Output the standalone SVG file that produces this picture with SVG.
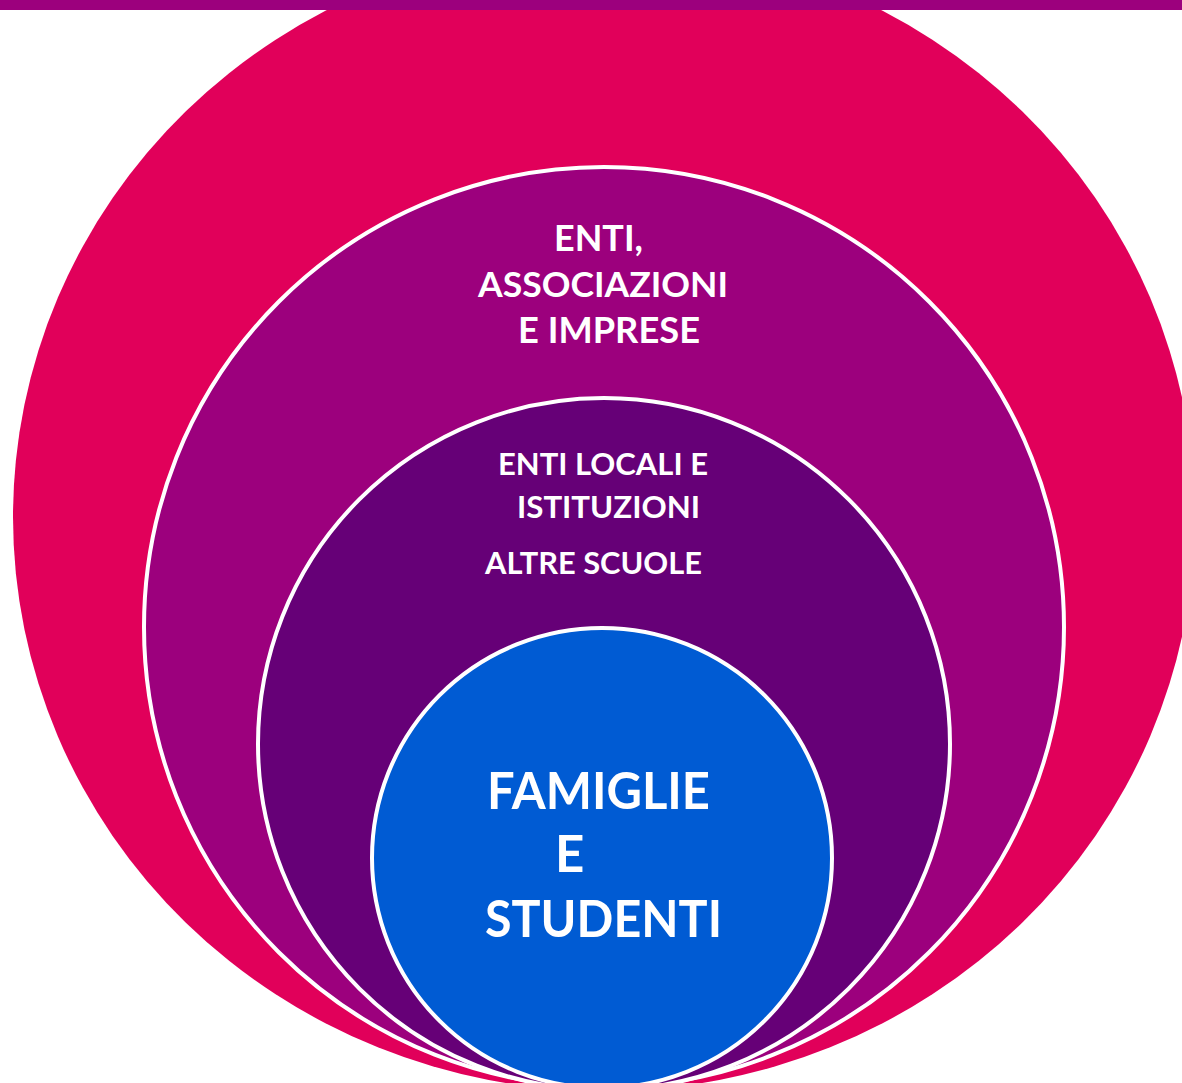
<svg xmlns="http://www.w3.org/2000/svg" width="1182" height="1083" viewBox="0 0 1182 1083">
<style>
.lbl{font-family:"Lato","Open Sans","Liberation Sans",sans-serif;font-weight:700;fill:#ffffff}
.ring{stroke:#ffffff;stroke-width:4}
</style>
<rect width="1182" height="1083" fill="#ffffff"/>
<g id="outer-ring">
<ellipse cx="604" cy="517" rx="591" ry="574" fill="#E1005A"/>
</g>
<rect id="top-bar" x="0" y="0" width="1182" height="10" fill="#9C007D"/>
<g id="connectors"></g>
<g id="ring-enti-associazioni">
<circle class="ring" cx="604" cy="627" r="460" fill="#9C007D"/>
<text class="lbl" x="554" y="251" font-size="36" textLength="89" lengthAdjust="spacingAndGlyphs">ENTI,</text>
<text class="lbl" x="478" y="297" font-size="35" textLength="250" lengthAdjust="spacingAndGlyphs">ASSOCIAZIONI</text>
<text class="lbl" x="518" y="343" font-size="36" textLength="182" lengthAdjust="spacingAndGlyphs">E IMPRESE</text>
</g>
<g id="ring-enti-locali">
<circle class="ring" cx="604" cy="744" r="346" fill="#660077"/>
<text class="lbl" x="498" y="475" font-size="30" textLength="210" lengthAdjust="spacingAndGlyphs">ENTI LOCALI E</text>
<text class="lbl" x="517" y="518" font-size="30" textLength="183" lengthAdjust="spacingAndGlyphs">ISTITUZIONI</text>
<text class="lbl" x="485" y="574" font-size="30" textLength="217" lengthAdjust="spacingAndGlyphs">ALTRE SCUOLE</text>
</g>
<g id="core-famiglie-studenti">
<circle class="ring" cx="602" cy="858" r="230" fill="#005BD3"/>
<text class="lbl" x="487" y="809" font-size="51" textLength="223" lengthAdjust="spacingAndGlyphs">FAMIGLIE</text>
<text class="lbl" x="555" y="872" font-size="51">E</text>
<text class="lbl" x="485" y="937" font-size="51" textLength="237" lengthAdjust="spacingAndGlyphs">STUDENTI</text>
</g>
</svg>
